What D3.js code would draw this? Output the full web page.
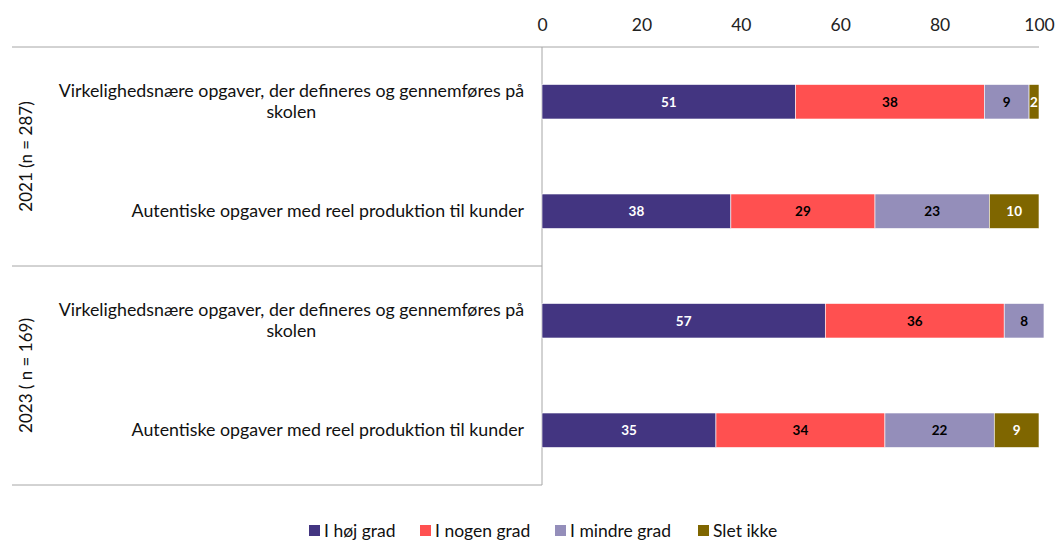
<!DOCTYPE html>
<html>
<head>
<meta charset="utf-8">
<script src="https://cdn.jsdelivr.net/npm/d3@7"></script>
<style>
  body { margin: 0; background: #fff; }
  text { font-family: Lato, "Noto Sans", sans-serif; }
</style>
</head>
<body>
<div id="chart"></div>
<script>
// data
var groups = ["2021 (n = 287)", "2023 ( n = 169)"];
var items = [
    "Virkelighedsnære opgaver, der defineres og gennemføres på skolen",
    "Autentiske opgaver med reel produktion til kunder"
];
var keys = ["I høj grad", "I nogen grad", "I mindre grad", "Slet ikke"];
var colors = ["#433581", "#ff5050", "#948eba", "#7f6600"];
var labelColors = ["#fff", "#000", "#000", "#fff"];
var tickValues = [0, 20, 40, 60, 80, 100];

var values2021 = [[51, 38, 9, 2], [38, 29, 23, 10]];
var values2023 = [[57, 36, 8, 0], [35, 34, 22, 9]];

var rows = [];
[values2021, values2023].forEach(function(vals, g) {
    vals.forEach(function(v, i) {
        var row = {id: g + "-" + i, group: groups[g], item: items[i]};
        keys.forEach(function(k, j) { row[k] = v[j]; });
        rows.push(row);
    });
});

var width = 1055, height = 541;
var margin = {top: 47, left: 542, right: 16, bottom: 56};

var svg = d3.select("#chart").append("svg")
    .attr("width", width).attr("height", height);

var x = d3.scaleLinear()
    .domain([0, 100])
    .range([margin.left, 1039]);

var y = d3.scaleBand()
    .domain(rows.map(function(d) { return d.id; }))
    .range([margin.top, height - margin.bottom])
    .paddingInner(0.685).paddingOuter(0.3425);

// top axis
var xAxis = svg.append("g")
    .attr("transform", "translate(0," + margin.top + ")")
    .call(d3.axisTop(x).tickValues(tickValues).tickSize(0).tickPadding(16));
xAxis.select(".domain").remove();
xAxis.selectAll("text")
    .style("font-family", "Lato, 'Noto Sans', sans-serif")
    .style("font-size", "17.5px").attr("fill", "#222");

var lineColor = "#a6a6a6";
// frame lines
svg.append("line").attr("x1", 12).attr("x2", x(100))
    .attr("y1", margin.top).attr("y2", margin.top)
    .attr("stroke", lineColor);
var groupTop = [margin.top, (margin.top + height - margin.bottom) / 2];
var groupBottom = [(margin.top + height - margin.bottom) / 2, height - margin.bottom];
groupBottom.forEach(function(yy) {
    svg.append("line").attr("x1", 12).attr("x2", x(0))
        .attr("y1", yy).attr("y2", yy).attr("stroke", lineColor);
});
svg.append("line").attr("x1", x(0)).attr("x2", x(0))
    .attr("y1", margin.top).attr("y2", height - margin.bottom)
    .attr("stroke", lineColor);

// stacked bars
var series = d3.stack().keys(keys)(rows);

var layer = svg.append("g").selectAll("g")
    .data(series).enter().append("g")
    .attr("fill", function(d, i) { return colors[i]; });

layer.selectAll("rect")
    .data(function(d) { return d.filter(function(p) { return p[1] - p[0] > 0; }); })
    .enter().append("rect")
    .attr("x", function(d) { return x(d[0]); })
    .attr("y", function(d) { return y(d.data.id); })
    .attr("width", function(d) { return x(d[1]) - x(d[0]); })
    .attr("height", y.bandwidth())
    .attr("stroke", "#fff").attr("stroke-width", 0.6);

layer.each(function(s, i) {
    d3.select(this).selectAll("text.val")
        .data(s.filter(function(p) { return p[1] - p[0] > 0; }))
        .enter().append("text")
        .attr("class", "val")
        .attr("x", function(d) { return (x(d[0]) + x(d[1])) / 2; })
        .attr("y", function(d) { return y(d.data.id) + y.bandwidth() / 2; })
        .attr("dy", "0.36em")
        .attr("text-anchor", "middle")
        .style("font-size", "13.5px").style("font-weight", "bold")
        .attr("fill", labelColors[i])
        .text(function(d) { return d[1] - d[0]; });
});

// category labels, long ones break before the last word
function wrapLabel(t) {
    if (t.length > 55) {
        var cut = t.lastIndexOf(" ");
        return [t.slice(0, cut), t.slice(cut + 1)];
    }
    return [t];
}
rows.forEach(function(r) {
    var lines = wrapLabel(r.item);
    var cy = y(r.id) + y.bandwidth() / 2;
    var txt = svg.append("text")
        .attr("text-anchor", "middle")
        .style("font-size", "17.8px").attr("fill", "#111");
    var lh = 21;
    lines.forEach(function(l, k) {
        txt.append("tspan")
            .attr("x", 524)
            .attr("y", cy + (k - (lines.length - 1) / 2) * lh)
            .attr("dy", "0.35em")
            .text(l);
    });
    if (lines.length > 1) {
        // first line right aligned, second centred under it
        var nodes = txt.selectAll("tspan").nodes();
        var w = nodes[0].getComputedTextLength();
        var center = 524 - w / 2;
        nodes.forEach(function(n) { d3.select(n).attr("x", center); });
    } else {
        txt.attr("text-anchor", "end");
    }
});

// group labels
groups.forEach(function(g, i) {
    var cy = (groupTop[i] + groupBottom[i]) / 2;
    svg.append("text")
        .attr("transform", "translate(32," + cy + ") rotate(-90)")
        .attr("text-anchor", "middle")
        .style("font-size", "17px").attr("fill", "#111")
        .text(g);
});

// legend
var legendX = [309, 420, 555, 698];
var legend = svg.append("g").selectAll("g")
    .data(keys).enter().append("g")
    .attr("transform", function(d, i) { return "translate(" + legendX[i] + ",525)"; });
legend.append("rect")
    .attr("width", 11).attr("height", 11)
    .attr("fill", function(d, i) { return colors[i]; });
legend.append("text")
    .attr("x", 15).attr("y", 6).attr("dy", "0.35em")
    .style("font-size", "17.5px").attr("fill", "#111")
    .text(function(d) { return d; });
</script>
</body>
</html>
